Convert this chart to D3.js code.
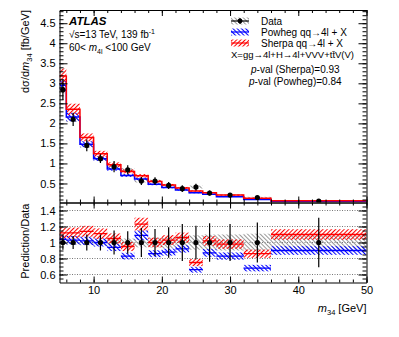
<!DOCTYPE html>
<html>
<head>
<meta charset="utf-8">
<script src="https://cdn.jsdelivr.net/npm/d3@7"></script>
<style>
  body { margin: 0; background: #fff; }
  svg text { font-family: "Liberation Sans", Arial, sans-serif; fill: #000; }
</style>
</head>
<body>
<svg id="chart" width="399" height="337"></svg>
<script>
// bin edges of m34 [GeV]
var binEdges   = [5, 6, 8, 10, 12, 14, 16, 18, 20, 22, 24, 26, 28, 32, 36, 50]
// measured dsigma/dm34 [fb/GeV] and its relative uncertainties
var dataVals   = [2.84, 2.10, 1.45, 1.12, 0.92, 0.84, 0.56, 0.56, 0.45, 0.37, 0.41, 0.26, 0.21, 0.15, 0.06]
var dataRelErr = [0.09, 0.08, 0.10, 0.10, 0.15, 0.14, 0.18, 0.17, 0.19, 0.23, 0.21, 0.24, 0.23, 0.25, 0.31]
var dataRelSys = [0.03, 0.03, 0.035, 0.04, 0.045, 0.05, 0.06, 0.06, 0.07, 0.08, 0.09, 0.10, 0.10, 0.11, 0.11]
// predictions
var sherpaVals = [3.18, 2.35, 1.65, 1.24, 0.97, 0.80, 0.69, 0.55, 0.46, 0.39, 0.31, 0.27, 0.21, 0.13, 0.066]
var powhegVals = [2.95, 2.16, 1.48, 1.12, 0.86, 0.70, 0.61, 0.48, 0.40, 0.34, 0.27, 0.23, 0.17, 0.10, 0.054]
var sherpaRelErr = [0.06, 0.06, 0.06, 0.06, 0.06, 0.06, 0.065, 0.06, 0.06, 0.06, 0.06, 0.06, 0.06, 0.06, 0.06]
var powhegRelErr = [0.05, 0.05, 0.05, 0.05, 0.05, 0.05, 0.055, 0.05, 0.05, 0.05, 0.055, 0.055, 0.055, 0.06, 0.06]
// prediction / data
var sherpaRatio = [1.12, 1.12, 1.14, 1.11, 1.05, 0.95, 1.23, 1.00, 1.03, 1.06, 0.75, 1.02, 0.98, 0.86, 1.10]
var powhegRatio = [1.04, 1.03, 1.02, 1.00, 0.94, 0.83, 1.09, 0.86, 0.88, 0.92, 0.66, 0.87, 0.83, 0.68, 0.90]

var xTicks      = [10, 20, 30, 40, 50]
var yTopTicks   = [0.5, 1, 1.5, 2, 2.5, 3, 3.5, 4, 4.5]
var yRatTicks   = [0.6, 0.8, 1, 1.2, 1.4]

var colorSherpa = '#ff0000'
var colorPowheg = '#0000ff'
var colorSys    = '#999999'

var left = 59.5, right = 366.5
var padTop = 10, padMid = 202.5, padBot = 282.5

var svg = d3.select('#chart')
var x = d3.scaleLinear().domain([5, 50]).range([left, right])
var yTop = d3.scaleLinear().domain([0.025, 4.83]).range([padMid, padTop])
var yRat = d3.scaleLinear().domain([0.5, 1.5]).range([padBot, padMid])

var bins = dataVals.map(function(v, i) {
    return {
        lo: binEdges[i], hi: binEdges[i + 1], mid: (binEdges[i] + binEdges[i + 1]) / 2,
        data: v, err: dataRelErr[i], sys: dataRelSys[i],
        sherpa: sherpaVals[i], powheg: powhegVals[i],
        sErr: sherpaRelErr[i], pErr: powhegRelErr[i],
        sRat: sherpaRatio[i], pRat: powhegRatio[i]
    }
})

// hatch patterns
var defs = svg.append('defs')
function hatch(id, color, dir, w) {
    var p = defs.append('pattern').attr('id', id)
        .attr('patternUnits', 'userSpaceOnUse')
        .attr('width', 3).attr('height', 3)
        .attr('patternTransform', 'rotate(' + dir + ')')
    p.append('line').attr('x1', 0.5).attr('y1', 0).attr('x2', 0.5).attr('y2', 3)
        .attr('stroke', color).attr('stroke-width', w)
}
hatch('hRed', colorSherpa, 45, 1.1)
hatch('hBlue', colorPowheg, -45, 1.1)
hatch('hGrey', colorSys, -45, 1.0)

defs.append('clipPath').attr('id', 'clipTop').append('rect')
    .attr('x', left).attr('y', padTop).attr('width', right - left).attr('height', padMid - padTop)
defs.append('clipPath').attr('id', 'clipRat').append('rect')
    .attr('x', left).attr('y', padMid).attr('width', right - left).attr('height', padBot - padMid)

function stepLine(key, y) {
    var pts = []
    bins.forEach(function(b) {
        pts.push([x(b.lo), y(b[key])])
        pts.push([x(b.hi), y(b[key])])
    })
    return d3.line()(pts)
}

// ---------- upper panel ----------
var gTop = svg.append('g').attr('clip-path', 'url(#clipTop)')

function bandTop(fill, key, errKey) {
    gTop.append('g').selectAll('rect').data(bins).join('rect')
        .attr('x', function(b) { return x(b.lo) })
        .attr('width', function(b) { return x(b.hi) - x(b.lo) })
        .attr('y', function(b) { return yTop(b[key] * (1 + b[errKey])) })
        .attr('height', function(b) { return yTop(b[key] * (1 - b[errKey])) - yTop(b[key] * (1 + b[errKey])) })
        .attr('fill', fill)
}
bandTop('url(#hGrey)', 'data', 'sys')
bandTop('url(#hBlue)', 'powheg', 'pErr')
bandTop('url(#hRed)', 'sherpa', 'sErr')

gTop.append('path').attr('d', stepLine('powheg', yTop))
    .attr('fill', 'none').attr('stroke', colorPowheg).attr('stroke-width', 1.5)
gTop.append('path').attr('d', stepLine('sherpa', yTop))
    .attr('fill', 'none').attr('stroke', colorSherpa).attr('stroke-width', 1.5)

gTop.append('g').selectAll('line').data(bins).join('line')
    .attr('x1', function(b) { return x(b.mid) }).attr('x2', function(b) { return x(b.mid) })
    .attr('y1', function(b) { return yTop(b.data * (1 + b.err)) })
    .attr('y2', function(b) { return yTop(b.data * (1 - b.err)) })
    .attr('stroke', '#000').attr('stroke-width', 1.2)
gTop.append('g').selectAll('circle').data(bins).join('circle')
    .attr('cx', function(b) { return x(b.mid) })
    .attr('cy', function(b) { return yTop(b.data) })
    .attr('r', 2.6).attr('fill', '#000')

// ---------- ratio panel ----------
var gRat = svg.append('g').attr('clip-path', 'url(#clipRat)')

gRat.append('g').selectAll('line').data(yRatTicks).join('line')
    .attr('x1', left).attr('x2', right)
    .attr('y1', function(d) { return yRat(d) }).attr('y2', function(d) { return yRat(d) })
    .attr('stroke', '#555').attr('stroke-width', 0.8).attr('stroke-dasharray', '1,1.5')

function bandRat(fill, key, errFn) {
    gRat.append('g').selectAll('rect').data(bins).join('rect')
        .attr('x', function(b) { return x(b.lo) })
        .attr('width', function(b) { return x(b.hi) - x(b.lo) })
        .attr('y', function(b) { return yRat(key(b) + errFn(b)) })
        .attr('height', function(b) { return yRat(key(b) - errFn(b)) - yRat(key(b) + errFn(b)) })
        .attr('fill', fill)
}
bandRat('url(#hGrey)', function() { return 1 }, function(b) { return b.sys })
bandRat('url(#hBlue)', function(b) { return b.pRat }, function(b) { return b.pRat * b.pErr })
bandRat('url(#hRed)', function(b) { return b.sRat }, function(b) { return b.sRat * b.sErr })

function ratLines(key, color) {
    gRat.append('g').selectAll('line').data(bins).join('line')
        .attr('x1', function(b) { return x(b.lo) }).attr('x2', function(b) { return x(b.hi) })
        .attr('y1', function(b) { return yRat(b[key]) }).attr('y2', function(b) { return yRat(b[key]) })
        .attr('stroke', color).attr('stroke-width', 1.3)
}
ratLines('pRat', colorPowheg)
ratLines('sRat', colorSherpa)

gRat.append('g').selectAll('line').data(bins).join('line')
    .attr('x1', function(b) { return x(b.mid) }).attr('x2', function(b) { return x(b.mid) })
    .attr('y1', function(b) { return yRat(1 + b.err) }).attr('y2', function(b) { return yRat(1 - b.err) })
    .attr('stroke', '#000').attr('stroke-width', 1.2)
gRat.append('g').selectAll('circle').data(bins).join('circle')
    .attr('cx', function(b) { return x(b.mid) }).attr('cy', yRat(1))
    .attr('r', 2.6).attr('fill', '#000')

// ---------- axes ----------
function minors(step, lo, hi) {
    var out = []
    for (var v = lo; v <= hi + 1e-9; v += step) out.push(+v.toFixed(3))
    return out
}
var xMinor = minors(2, 6, 50)
function drawAxis(axisFn, scale, pos, major, minor, majLen, minLen, labels) {
    var gMin = svg.append('g').attr('transform', pos)
        .call(axisFn(scale).tickValues(minor).tickSizeInner(-minLen).tickSizeOuter(0).tickFormat(''))
    var gMaj = svg.append('g').attr('transform', pos)
        .call(axisFn(scale).tickValues(major).tickSizeInner(-majLen).tickSizeOuter(0).tickPadding(4)
            .tickFormat(labels ? d3.format('') : ''))
    gMin.select('.domain').remove()
    gMaj.selectAll('text').attr('font-size', 11).attr('font-family', '"Liberation Sans", Arial, sans-serif')
    return gMaj
}
// upper
drawAxis(d3.axisLeft, yTop, 'translate(' + left + ',0)', yTopTicks, minors(0.1, 0.1, 4.8), 8, 4, true)
drawAxis(d3.axisRight, yTop, 'translate(' + right + ',0)', yTopTicks, minors(0.1, 0.1, 4.8), 8, 4, false)
drawAxis(d3.axisTop, x, 'translate(0,' + padTop + ')', xTicks, xMinor, 6, 3, false)
drawAxis(d3.axisBottom, x, 'translate(0,' + padMid + ')', xTicks, xMinor, 6, 3, false)
// ratio
drawAxis(d3.axisLeft, yRat, 'translate(' + left + ',0)', yRatTicks, minors(0.05, 0.55, 1.45), 8, 4, true)
drawAxis(d3.axisRight, yRat, 'translate(' + right + ',0)', yRatTicks, minors(0.05, 0.55, 1.45), 8, 4, false)
drawAxis(d3.axisTop, x, 'translate(0,' + padMid + ')', xTicks, xMinor, 6, 3, false)
drawAxis(d3.axisBottom, x, 'translate(0,' + padBot + ')', xTicks, xMinor, 6, 3, true)

// axis titles
var yt = svg.append('text').attr('transform', 'translate(29,' + padTop + ') rotate(-90)')
    .attr('text-anchor', 'end').attr('font-size', 11)
yt.append('tspan').text('dσ/d')
yt.append('tspan').attr('font-style', 'italic').text('m')
yt.append('tspan').attr('font-size', 7.5).attr('dy', 2.5).text('34')
yt.append('tspan').attr('dy', -2.5).text(' [fb/GeV]')

svg.append('text').attr('transform', 'translate(29,' + (padMid + 1) + ') rotate(-90)')
    .attr('text-anchor', 'end').attr('font-size', 11).text('Prediction/Data')

var xt = svg.append('text').attr('x', right).attr('y', 312).attr('text-anchor', 'end').attr('font-size', 11)
xt.append('tspan').attr('font-style', 'italic').text('m')
xt.append('tspan').attr('font-size', 7.5).attr('dy', 2.5).text('34')
xt.append('tspan').attr('dy', -2.5).text(' [GeV]')

// ATLAS label
svg.append('text').attr('x', 69).attr('y', 25).attr('font-size', 11.5)
    .attr('font-weight', 'bold').attr('font-style', 'italic').text('ATLAS')
var l2 = svg.append('text').attr('x', 69).attr('y', 38).attr('font-size', 10)
l2.append('tspan').text('√s=13 TeV, 139 fb')
l2.append('tspan').attr('font-size', 7).attr('dy', -4).text('-1')
var l3 = svg.append('text').attr('x', 69).attr('y', 51).attr('font-size', 10)
l3.append('tspan').text('60< ')
l3.append('tspan').attr('font-style', 'italic').text('m')
l3.append('tspan').attr('font-size', 7).attr('dy', 2.5).text('4l')
l3.append('tspan').attr('dy', -2.5).text(' <100 GeV')

// legend
var legX = 231, legW = 18, legH = 7
var legRows = [
    { y: 21, fill: 'url(#hGrey)', line: '#000', label: 'Data', dot: true },
    { y: 32, fill: 'url(#hBlue)', line: colorPowheg, label: 'Powheg qq→4l + X' },
    { y: 43, fill: 'url(#hRed)', line: colorSherpa, label: 'Sherpa qq→4l + X' }
]
var leg = svg.append('g')
legRows.forEach(function(r) {
    leg.append('rect').attr('x', legX).attr('y', r.y - legH / 2).attr('width', legW).attr('height', legH)
        .attr('fill', r.fill)
    leg.append('line').attr('x1', legX).attr('x2', legX + legW).attr('y1', r.y).attr('y2', r.y)
        .attr('stroke', r.line).attr('stroke-width', 1.2)
    if (r.dot) {
        leg.append('line').attr('x1', legX + legW / 2).attr('x2', legX + legW / 2)
            .attr('y1', r.y - 3).attr('y2', r.y + 3).attr('stroke', '#000').attr('stroke-width', 1)
        leg.append('circle').attr('cx', legX + legW / 2).attr('cy', r.y).attr('r', 2.4).attr('fill', '#000')
    }
    leg.append('text').attr('x', 261).attr('y', r.y + 3.8).attr('font-size', 10).text(r.label)
})
leg.append('text').attr('x', 231).attr('y', 58).attr('font-size', 9.5).text('X=gg→4l+H→4l+VVV+tt̄V(V)')
var p1 = leg.append('text').attr('x', 251).attr('y', 73).attr('font-size', 10)
p1.append('tspan').attr('font-style', 'italic').text('p')
p1.append('tspan').text('-val (Sherpa)=0.93')
var p2 = leg.append('text').attr('x', 249).attr('y', 85).attr('font-size', 10)
p2.append('tspan').attr('font-style', 'italic').text('p')
p2.append('tspan').text('-val (Powheg)=0.84')
</script>
</body>
</html>
